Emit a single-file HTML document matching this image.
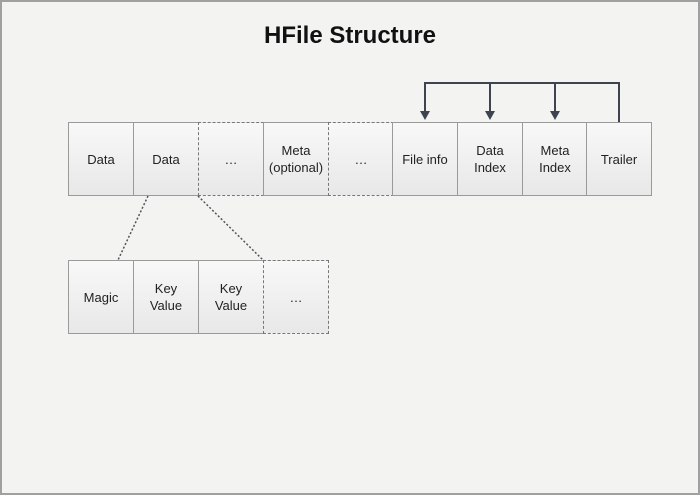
<!DOCTYPE html><html><head><style>
body{margin:0;width:700px;height:495px;overflow:hidden;font-family:"Liberation Sans",sans-serif}
.bg{position:absolute;left:0;top:0;width:696px;height:491px;border:2px solid #a0a0a0;background:#f3f3f2}
.b{position:absolute;width:64px;height:72px;border:1px solid #9a9a9a;background:linear-gradient(#f8f8f8,#e8e8e8);display:flex;align-items:center;justify-content:center;text-align:center;font-size:13px;color:#222;line-height:17px;box-sizing:border-box;height:74px;width:66px}
.d{border:1px dashed #777}
h1{position:absolute;top:22px;left:0;width:700px;text-align:center;margin:0;font-size:24px;font-weight:bold;color:#111}
</style></head><body><div class="bg"></div>
<h1>HFile Structure</h1>
<div class="b" style="left:68px;top:122px">Data</div>
<div class="b" style="left:133px;top:122px">Data</div>
<div class="b d" style="left:198px;top:122px">…</div>
<div class="b" style="left:263px;top:122px">Meta<br>(optional)</div>
<div class="b d" style="left:328px;top:122px">…</div>
<div class="b" style="left:392px;top:122px">File info</div>
<div class="b" style="left:457px;top:122px">Data<br>Index</div>
<div class="b" style="left:522px;top:122px">Meta<br>Index</div>
<div class="b" style="left:586px;top:122px">Trailer</div>
<div class="b" style="left:68px;top:260px">Magic</div>
<div class="b" style="left:133px;top:260px">Key<br>Value</div>
<div class="b" style="left:198px;top:260px">Key<br>Value</div>
<div class="b d" style="left:263px;top:260px">…</div>
<svg width="700" height="495" style="position:absolute;left:0;top:0">
<g stroke="#555" stroke-width="1.5" stroke-dasharray="2,2"><line x1="148" y1="196" x2="118" y2="260"/><line x1="198" y1="196" x2="263" y2="260"/></g>
<g stroke="#3d4450" stroke-width="2" fill="none"><polyline points="619,122 619,83 425,83 425,112"/><line x1="490" y1="83" x2="490" y2="112"/><line x1="555" y1="83" x2="555" y2="112"/></g>
<g fill="#3d4450"><polygon points="420,111 430,111 425,120"/><polygon points="485,111 495,111 490,120"/><polygon points="550,111 560,111 555,120"/></g>
</svg></body></html>
